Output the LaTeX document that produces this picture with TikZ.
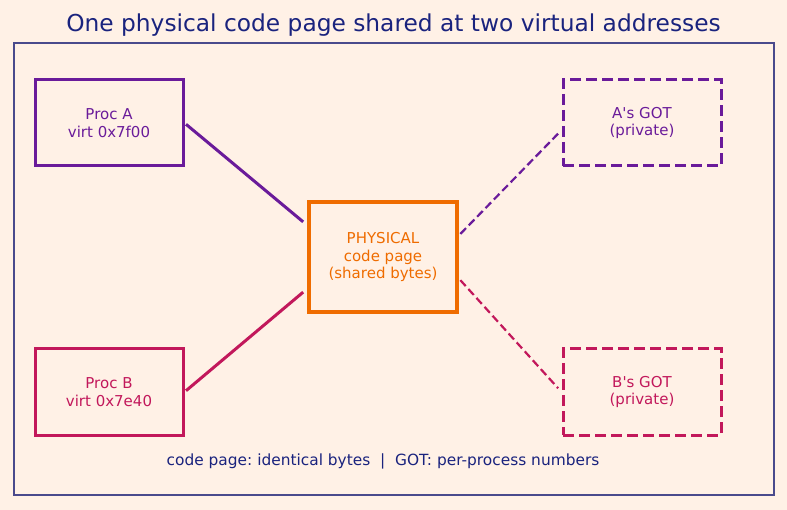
\documentclass[tikz,border=0pt]{standalone}
\usepackage{fontspec}
\setmainfont{DejaVu Sans}
\usetikzlibrary{calc}
\definecolor{bgcream}{HTML}{FFF1E6}
\definecolor{navy}{HTML}{1A237E}
\definecolor{framec}{HTML}{4A4A8C}
\definecolor{procA}{HTML}{6A1B9A}
\definecolor{procB}{HTML}{C2185B}
\definecolor{physc}{HTML}{EF6C00}
\frenchspacing
\tikzset{
  box/.style={draw, line width=3pt, minimum width=148pt, minimum height=86pt,
    align=center, font=\fontsize{15}{17.5}\selectfont, inner sep=0pt},
  gotbox/.style={box, minimum width=158pt, dash pattern=on 11pt off 5pt},
  physbox/.style={box, line width=4pt, minimum height=110pt, draw=physc, text=physc},
  link/.style={line width=3pt, shorten <=2pt, shorten >=5pt},
  dlink/.style={line width=2.2pt, dash pattern=on 8pt off 4pt, shorten <=2pt, shorten >=5pt},
}
\begin{document}
\begin{tikzpicture}[x=1pt, y=-1pt]
  \fill[bgcream] (0,0) rectangle (787,510);
  \useasboundingbox (0,0) rectangle (787,510);
  \node[text=navy, font=\fontsize{23.3}{27}\selectfont] (title) at (393.5,25) {One physical code page shared at two virtual addresses};
  \draw[framec, line width=1.5pt] (14,43) rectangle (774,495);

  \node[box, draw=procA, text=procA] (pa) at (109,123) {Proc A\\virt 0x7f00};
  \node[box, draw=procB, text=procB] (pb) at (109,392) {Proc B\\virt 0x7e40};
  \node[physbox] (phys) at (383,257) {PHYSICAL\\code page\\(shared bytes)};
  \node[gotbox, draw=procA, text=procA] (ga) at (642,123) {A\textquotesingle s GOT\\(private)};
  \node[gotbox, draw=procB, text=procB] (gb) at (642,392) {B\textquotesingle s GOT\\(private)};

  \coordinate (pA) at ($(phys.north west)!0.22!(phys.south west)$);
  \coordinate (pB) at ($(phys.north west)!0.78!(phys.south west)$);
  \coordinate (pGA) at ($(phys.north east)!0.31!(phys.south east)$);
  \coordinate (pGB) at ($(phys.north east)!0.69!(phys.south east)$);
  \coordinate (gA) at ($(ga.north west)!0.58!(ga.south west)$);
  \coordinate (gB) at ($(gb.north west)!0.5!(gb.south west)$);

  \draw[link, procA] (pa.east) -- (pA);
  \draw[link, procB] (pb.east) -- (pB);
  \draw[dlink, procA] (pGA) -- (gA);
  \draw[dlink, procB] (pGB) -- (gB);

  \node[text=navy, font=\fontsize{15.4}{18}\selectfont] (note) at (383,461) {code page: identical bytes\ \ |\ \ GOT: per-process numbers};
\end{tikzpicture}
\end{document}
